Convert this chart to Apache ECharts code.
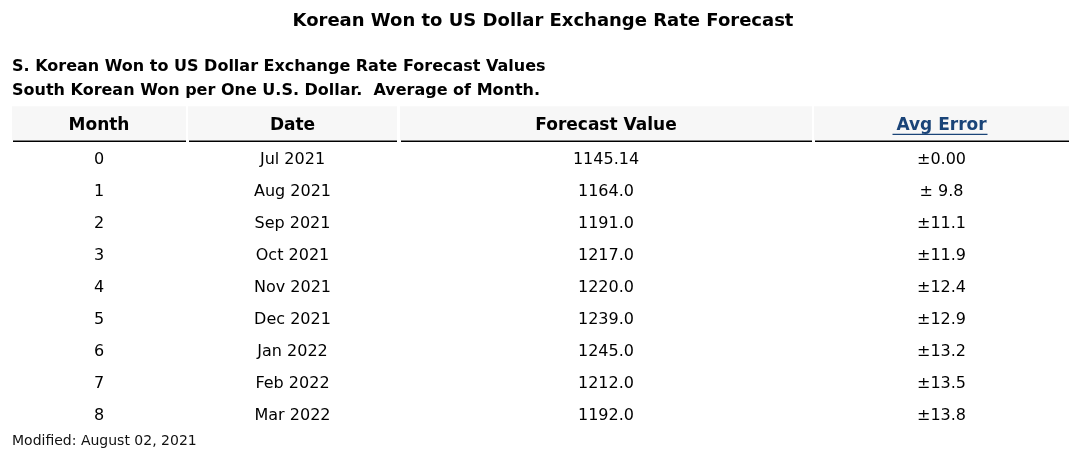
<!DOCTYPE html>
<html><head><meta charset="utf-8">
<script src="https://cdn.jsdelivr.net/npm/echarts@6/dist/echarts.min.js"></script>
<style>html,body{margin:0;padding:0;background:#fff}#c{width:1086px;height:458px}</style>
</head><body><div id="c"></div>
<script>
// ---- data ----
var columnNames = ['Month', 'Date', 'Forecast Value', 'Avg Error'];
var months = ['0', '1', '2', '3', '4', '5', '6', '7', '8'];
var dates = ['Jul 2021', 'Aug 2021', 'Sep 2021', 'Oct 2021', 'Nov 2021', 'Dec 2021', 'Jan 2022', 'Feb 2022', 'Mar 2022'];
var forecastValues = ['1145.14', '1164.0', '1191.0', '1217.0', '1220.0', '1239.0', '1245.0', '1212.0', '1192.0'];
var avgErrors = ['\u00b10.00', '\u00b1 9.8', '\u00b111.1', '\u00b111.9', '\u00b112.4', '\u00b112.9', '\u00b113.2', '\u00b113.5', '\u00b113.8'];

// ---- layout ----
var colBounds = [[0, 174], [176, 385], [388, 800], [802, 1057]];
var headerRow = -1.05;
var FONT = '"DejaVu Sans", Verdana, sans-serif';
var LINK = '#1a4478';

var columns = [months, dates, forecastValues, avgErrors];
var cellData = [];
columns.forEach(function (col, c) {
  var cx = (colBounds[c][0] + colBounds[c][1]) / 2;
  col.forEach(function (t, i) { cellData.push([cx, i, t]); });
});
var headData = columnNames.map(function (n, c) {
  var v = [(colBounds[c][0] + colBounds[c][1]) / 2, headerRow, n];
  return c === 3 ? {value: v, label: {color: LINK}} : {value: v};
});

var chart = echarts.init(document.getElementById('c'), null, {renderer: 'canvas'});
chart.setOption({
  animation: false,
  backgroundColor: '#fff',
  title: [
    {text: 'Korean Won to US Dollar Exchange Rate Forecast', left: 'center', top: 7,
     textStyle: {fontFamily: FONT, fontSize: 18, fontWeight: 'bold', color: '#000'}},
    {text: 'S. Korean Won to US Dollar Exchange Rate Forecast Values\nSouth Korean Won per One U.S. Dollar.  Average of Month.',
     left: 7, top: 50,
     textStyle: {fontFamily: FONT, fontSize: 16, fontWeight: 'bold', color: '#000', lineHeight: 24}},
    {text: 'Modified: August 02, 2021', left: 7, top: 429,
     textStyle: {fontFamily: FONT, fontSize: 14, fontWeight: 'normal', color: '#111'}}
  ],
  grid: {left: 12, width: 1057, top: 106.2, height: 324.8},
  xAxis: {type: 'value', min: 0, max: 1057, show: false},
  yAxis: {type: 'value', min: -1.65, max: 8.5, inverse: true, show: false},
  series: [
    {
      type: 'custom', clip: false, silent: true,
      data: colBounds.map(function (b, c) { return [b[0], b[1], c]; }),
      renderItem: function (params, api) {
        var x0 = api.value(0), x1 = api.value(1), c = api.value(2);
        var p0 = api.coord([x0, -1.65]);
        var p1 = api.coord([x1, -0.595]);
        var l0 = api.coord([x0 + 1, -0.58]);
        var l1 = api.coord([x1, -0.53]);
        var children = [
          {type: 'rect', shape: {x: p0[0], y: p0[1], width: p1[0] - p0[0], height: p1[1] - p0[1]},
           style: {fill: '#f7f7f7'}},
          {type: 'rect', shape: {x: l0[0], y: l0[1], width: l1[0] - l0[0], height: 1.6},
           style: {fill: '#000'}}
        ];
        if (c === 3) {
          var cx = api.coord([(x0 + x1) / 2, -0.79]);
          children.push({type: 'rect', shape: {x: cx[0] - 49, y: cx[1], width: 95, height: 1.3},
            style: {fill: LINK}});
        }
        return {type: 'group', children: children};
      }
    },
    {
      type: 'scatter', silent: true, symbolSize: 0,
      itemStyle: {color: '#000', opacity: 1},
      data: headData,
      label: {show: true, position: 'inside', opacity: 1,
        formatter: function (p) { return p.value[2]; },
        fontFamily: FONT, fontSize: 17, fontWeight: 'bold', color: '#000',
        textBorderWidth: 0}
    },
    {
      type: 'scatter', silent: true, symbolSize: 0,
      itemStyle: {color: '#000', opacity: 1},
      data: cellData,
      label: {show: true, position: 'inside', opacity: 1, offset: [0, 1],
        formatter: function (p) { return p.value[2]; },
        fontFamily: FONT, fontSize: 16, color: '#000',
        textBorderWidth: 0}
    }
  ]
});
</script>
</body></html>
